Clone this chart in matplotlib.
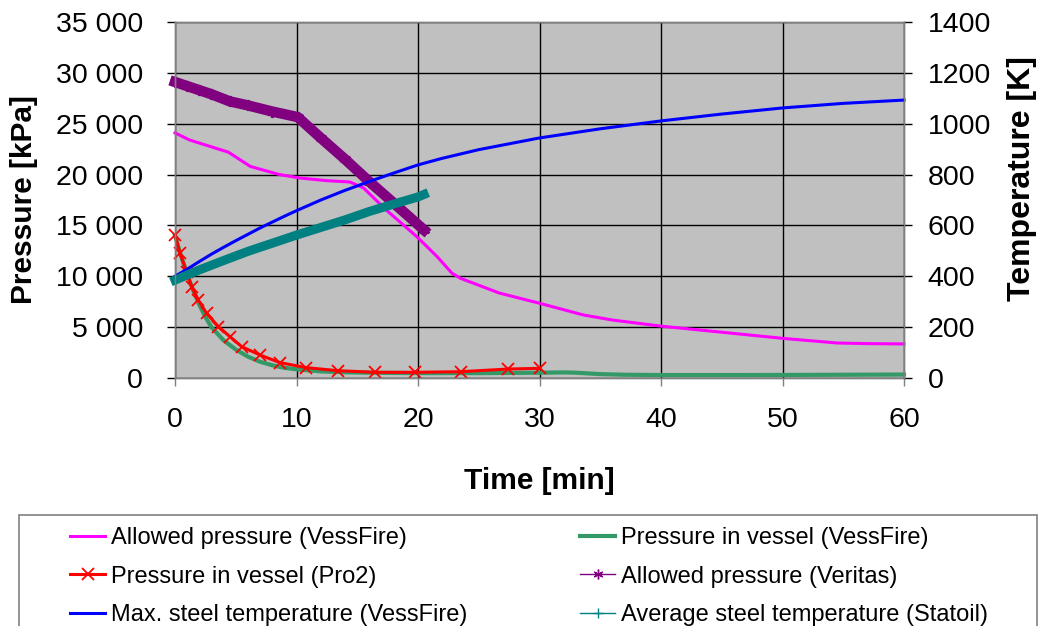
import matplotlib
matplotlib.use('Agg')
import matplotlib.pyplot as plt
from matplotlib.lines import Line2D
from matplotlib.patches import Rectangle
from matplotlib.ticker import FuncFormatter

plt.rcParams['font.family'] = ['Liberation Sans', 'DejaVu Sans']

# Allowed pressure (VessFire) [kPa]
t_allow_vf = [0, 1.2, 4.4, 6.2, 8.6, 10.3, 12.5, 14.4, 15.5, 17.4, 19.9, 21.6,
              22.8, 23.5, 26.7, 30, 33.6, 36, 40, 45, 50, 54.5, 57, 60]
p_allow_vf = [24100, 23400, 22200, 20800, 20000, 19660, 19400, 19270, 18700,
              16500, 13900, 11900, 10300, 9800, 8350, 7350, 6200, 5700, 5100,
              4500, 3900, 3440, 3380, 3350]

# Pressure in vessel (VessFire) [kPa]
t_vessel_vf = [0, 0.5, 1, 1.5, 2, 2.5, 3, 4, 5, 6, 7, 8, 9, 10, 12, 14, 16,
               20, 25, 30, 32, 33, 35, 37, 40, 45, 50, 55, 60]
p_vessel_vf = [14000, 12000, 10200, 8600, 7200, 6000, 5000, 3700, 2800, 2100,
               1600, 1250, 1000, 850, 650, 560, 520, 480, 480, 520, 550, 520,
               380, 320, 290, 290, 300, 320, 340]

# Pressure in vessel (Pro2) [kPa]
t_pro2 = [0, 0.41, 0.96, 1.37, 1.92, 2.6, 3.57, 4.53, 5.49, 7.0, 8.64, 10.8,
          13.4, 16.5, 19.75, 23.5, 27.4, 30]
p_pro2 = [14100, 12260, 10450, 8980, 7670, 6360, 5050, 4060, 3080, 2260, 1510,
          1020, 720, 560, 560, 620, 880, 950]

# Allowed pressure (Veritas) [kPa]
t_veritas = [0, 1, 2, 3, 4.5, 6, 8, 10.1, 12, 14, 16, 18, 20.5]
p_veritas = [29100, 28700, 28300, 27900, 27200, 26800, 26200, 25650, 23600,
             21500, 19300, 17200, 14550]

# Max. steel temperature (VessFire) [K]
t_max_steel = [0, 1, 2, 3, 4, 5, 6, 7, 8, 9, 10, 12, 14, 16, 18, 20, 22, 25,
               30, 35, 40, 45, 50, 55, 60]
T_max_steel = [400, 428, 458, 487, 514, 540, 565, 590, 613, 636, 658, 700,
               738, 773, 806, 838, 864, 898, 944, 980, 1011, 1038, 1062,
               1080, 1093]

# Average steel temperature (Statoil) [K]
t_avg_steel = [0, 2, 4, 6, 8, 10, 12, 14, 16, 18, 20, 20.5]
T_avg_steel = [385, 425, 462, 498, 530, 562, 592, 622, 655, 684, 712, 722]

labels_left = ['Allowed pressure (VessFire)', 'Pressure in vessel (Pro2)',
               'Max. steel temperature (VessFire)']
labels_right = ['Pressure in vessel (VessFire)', 'Allowed pressure (Veritas)',
                'Average steel temperature (Statoil)']

MAGENTA, GREEN, RED = '#FF00FF', '#339966', '#FF0000'
PURPLE, BLUE, TEAL = '#800080', '#0000FF', '#008080'
STAR = (6, 2, 0)

fig = plt.figure(figsize=(10.4, 6.26), dpi=100)
ax = fig.add_axes([175 / 1040, 1 - 378 / 626, 729 / 1040, 356 / 626])
ax.set_facecolor('#C0C0C0')
ax2 = ax.twinx()

ax.plot(t_allow_vf, p_allow_vf, color=MAGENTA, lw=2.2, clip_on=False)
ax.plot(t_vessel_vf, p_vessel_vf, color=GREEN, lw=3, clip_on=False)
ax.plot(t_pro2, p_pro2, color=RED, lw=2.2, marker='x', ms=9, mew=1.3,
        clip_on=False)
ax.plot(t_veritas, p_veritas, color=PURPLE, lw=7.5, marker=STAR, ms=8,
        mew=1.5, clip_on=False)
ax2.plot(t_max_steel, T_max_steel, color=BLUE, lw=2.2, clip_on=False)
ax2.plot(t_avg_steel, T_avg_steel, color=TEAL, lw=6.5, marker='+', ms=6,
         mew=1.5, clip_on=False)

ax.set_xlim(0, 60)
ax.set_ylim(0, 35000)
ax2.set_ylim(0, 1400)
ax.set_xticks(range(0, 61, 10))
ax.set_yticks(range(0, 35001, 5000))
ax2.set_yticks(range(0, 1401, 200))
ax.yaxis.set_major_formatter(FuncFormatter(lambda v, p: f'{int(v):,}'.replace(',', ' ')))

ax.grid(True, color='black', lw=1.0)
ax.set_axisbelow(True)

for a in (ax, ax2):
    for s in a.spines.values():
        s.set_color('#808080')
        s.set_linewidth(1.0)

ax.tick_params(axis='y', direction='out', length=6, width=1, color='black',
               pad=17, labelsize=20.5)
ax.tick_params(axis='x', direction='out', length=6, width=1, color='#808080',
               pad=15, labelsize=20.5)
ax2.tick_params(axis='y', direction='out', length=6, width=1, color='black',
                pad=11, labelsize=20.5)

ax.set_xlabel('Time [min]', fontsize=21.5, fontweight='bold')
ax.set_ylabel('Pressure [kPa]', fontsize=21.5, fontweight='bold')
ax2.set_ylabel('Temperature [K]', fontsize=23, fontweight='bold')
ax.xaxis.set_label_coords(0.5, -0.25)
ax.yaxis.set_label_coords(-0.188, 0.5)
ax2.yaxis.set_label_coords(1.141, 0.56)

# legend box runs off the bottom edge of the figure
fig.add_artist(Rectangle((19 / 1040, -0.1), (1037 - 19) / 1040,
                         (626 - 515) / 626 + 0.1, transform=fig.transFigure,
                         fill=False, edgecolor='#808080', lw=1.2))

handles_left = [Line2D([], [], color=MAGENTA, lw=2.2),
                Line2D([], [], color=RED, lw=2.2, marker='x', ms=9, mew=1.3),
                Line2D([], [], color=BLUE, lw=2.2)]
handles_right = [Line2D([], [], color=GREEN, lw=3),
                 Line2D([], [], color=PURPLE, lw=1, marker=STAR, ms=7),
                 Line2D([], [], color=TEAL, lw=1, marker='+', ms=7)]

leg_kw = dict(loc='upper left', frameon=False, fontsize=17, handlelength=1.5,
              handletextpad=0.25, labelspacing=0.7, borderpad=0,
              borderaxespad=0)
fig.legend(handles_left, labels_left, bbox_to_anchor=(70 / 1040, 1 - 527 / 626),
           **leg_kw)
fig.legend(handles_right, labels_right,
           bbox_to_anchor=(580 / 1040, 1 - 527 / 626), **leg_kw)

fig.savefig('out.png', dpi=100)
